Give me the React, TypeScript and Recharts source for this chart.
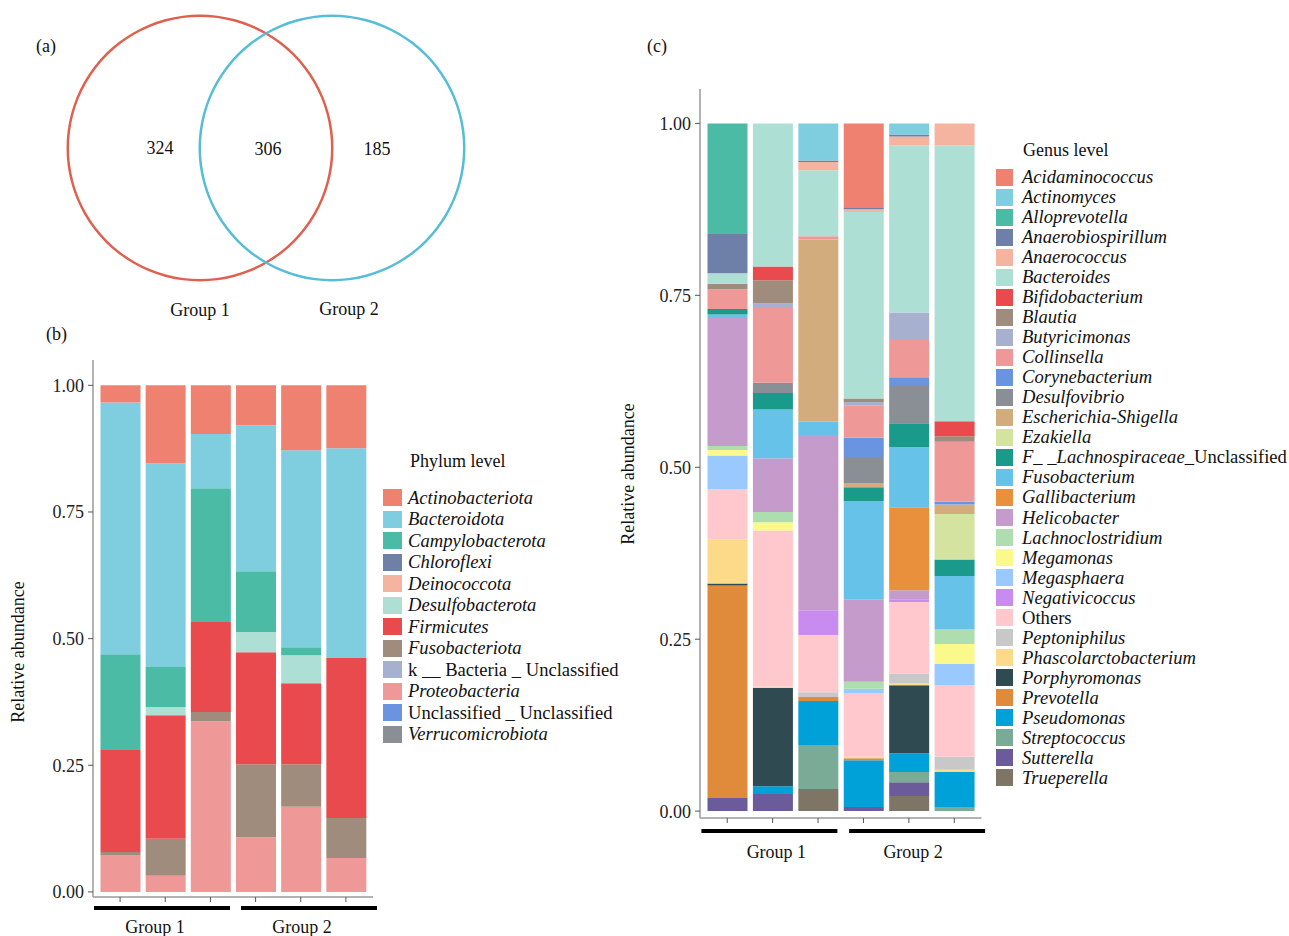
import React from 'react';
import { BarChart, Bar, XAxis, YAxis, PieChart, Pie, Customized } from 'recharts';

const FONT = '"Liberation Serif", "Times New Roman", serif';

// samples and their groups
const samples = ['G1-1', 'G1-2', 'G1-3', 'G2-1', 'G2-2', 'G2-3'];
const sampleGroups = ['Group 1', 'Group 1', 'Group 1', 'Group 2', 'Group 2', 'Group 2'];

// Venn (a)
const vennGroups = ['Group 1', 'Group 2'];
const vennCounts = [324, 306, 185]; // only group 1, shared, only group 2
const vennColors = ['#E0604F', '#55BDD5'];

// Phylum level (b) - one row per taxon, one value per sample
const phylumNames = [
  'Actinobacteriota', 'Bacteroidota', 'Campylobacterota', 'Chloroflexi', 'Deinococcota',
  'Desulfobacterota', 'Firmicutes', 'Fusobacteriota', 'k __ Bacteria _ Unclassified',
  'Proteobacteria', 'Unclassified _ Unclassified', 'Verrucomicrobiota',
];
const phylumColors = [
  '#EE8170', '#7ECEE0', '#4CBBA5', '#6E7FA8', '#F5B4A0', '#AEDFD5',
  '#E84A4E', '#A08C7C', '#A8B0D0', '#EE9898', '#6A94E0', '#8A8F96',
];
const phylumValues = [
  [0.034, 0.154, 0.096, 0.079, 0.128, 0.124],
  [0.497, 0.402, 0.107, 0.288, 0.389, 0.414],
  [0.189, 0.079, 0.264, 0.120, 0.016, 0],
  [0, 0, 0, 0, 0, 0],
  [0, 0, 0, 0, 0, 0],
  [0, 0.016, 0, 0.040, 0.055, 0],
  [0.201, 0.244, 0.178, 0.221, 0.160, 0.316],
  [0.006, 0.073, 0.018, 0.144, 0.084, 0.079],
  [0, 0, 0, 0, 0, 0],
  [0.073, 0.032, 0.337, 0.108, 0.168, 0.067],
  [0, 0, 0, 0, 0, 0],
  [0, 0, 0, 0, 0, 0],
];

// Genus level (c)
const genusNames = [
  'Acidaminococcus', 'Actinomyces', 'Alloprevotella', 'Anaerobiospirillum', 'Anaerococcus',
  'Bacteroides', 'Bifidobacterium', 'Blautia', 'Butyricimonas', 'Collinsella',
  'Corynebacterium', 'Desulfovibrio', 'Escherichia-Shigella', 'Ezakiella',
  'F__Lachnospiraceae_Unclassified', 'Fusobacterium', 'Gallibacterium', 'Helicobacter',
  'Lachnoclostridium', 'Megamonas', 'Megasphaera', 'Negativicoccus', 'Others',
  'Peptoniphilus', 'Phascolarctobacterium', 'Porphyromonas', 'Prevotella', 'Pseudomonas',
  'Streptococcus', 'Sutterella', 'Trueperella',
];
const genusColors = [
  '#EE8170', '#7ECEE0', '#4CBBA5', '#6E7FA8', '#F5B4A0',
  '#AEDFD5', '#E84A4E', '#A08C7C', '#A8B0D0', '#EE9898',
  '#6A94E0', '#8A8F96', '#D2AC7C', '#D5E3A0',
  '#1A9A8A', '#66C2E8', '#E8903C', '#C49BCB',
  '#AEDDB0', '#FBF98C', '#99C9FF', '#C88CF0', '#FFC8CC',
  '#C8C8C8', '#FDD98A', '#2F4A50', '#E08A3C', '#00A0D8',
  '#7AAB96', '#6B5B9A', '#7F7566',
];
const genusValues = [
  [0, 0, 0, 0.122, 0, 0],
  [0, 0, 0.054, 0, 0.016, 0],
  [0.161, 0, 0, 0, 0, 0],
  [0.057, 0, 0.002, 0.003, 0.003, 0],
  [0, 0, 0.012, 0.004, 0.013, 0.032],
  [0.015, 0.208, 0.096, 0.271, 0.243, 0.401],
  [0, 0.020, 0, 0, 0, 0.022],
  [0.008, 0.034, 0, 0.005, 0, 0.008],
  [0, 0.005, 0, 0.005, 0.040, 0],
  [0.029, 0.110, 0.005, 0.047, 0.054, 0.087],
  [0, 0, 0, 0.028, 0.013, 0.004],
  [0, 0.015, 0, 0.038, 0.054, 0],
  [0, 0, 0.265, 0.006, 0, 0.014],
  [0, 0, 0, 0, 0, 0.066],
  [0.008, 0.024, 0, 0.020, 0.035, 0.024],
  [0.005, 0.071, 0.019, 0.143, 0.087, 0.078],
  [0, 0, 0, 0, 0.121, 0],
  [0.186, 0.078, 0.255, 0.120, 0.013, 0],
  [0.006, 0.015, 0, 0.010, 0, 0.021],
  [0.008, 0.012, 0, 0, 0, 0.029],
  [0.049, 0, 0, 0.007, 0, 0.031],
  [0, 0, 0.036, 0, 0.004, 0],
  [0.073, 0.227, 0.083, 0.092, 0.104, 0.104],
  [0, 0, 0.007, 0, 0.014, 0.019],
  [0.064, 0.002, 0, 0.002, 0.003, 0.003],
  [0.003, 0.143, 0, 0, 0.099, 0],
  [0.309, 0, 0.006, 0.003, 0, 0],
  [0, 0.011, 0.064, 0.068, 0.027, 0.051],
  [0, 0, 0.064, 0, 0.015, 0.006],
  [0.019, 0.025, 0, 0.006, 0.020, 0],
  [0, 0, 0.032, 0, 0.022, 0],
];

const yTicks = [0, 0.25, 0.5, 0.75, 1];
const plainLabels = ['k __ Bacteria _ Unclassified', 'Unclassified _ Unclassified', 'Others'];

function buildRows(names: string[], values: number[][]) {
  return samples.map((s, j) => {
    const row: Record<string, any> = { sample: s, group: sampleGroups[j] };
    names.forEach((n, i) => {
      row[n] = values[i][j];
    });
    return row;
  });
}

const GroupTick = (props: any) => {
  const { x, y, payload, lineDy, textDy, textOffs } = props;
  const i = vennGroups.indexOf(payload.value);
  const lineOff = i === 0 ? -1 : 6;
  const textOff = textOffs[i] ?? 0;
  return (
    <g>
      <line x1={x - 68 + lineOff} x2={x + 68 + lineOff} y1={y + lineDy} y2={y + lineDy} stroke="#000" strokeWidth={4} />
      <text x={x + textOff} y={y + textDy} textAnchor="middle" fontSize={18} fontFamily={FONT} fill="#111">
        {payload.value}
      </text>
    </g>
  );
};

interface StackProps {
  names: string[];
  colors: string[];
  values: number[][];
  width: number;
  height: number;
  margin: { top: number; right: number; bottom: number; left: number };
  yWidth: number;
  lineDy: number;
  textDy: number;
  textOffs: number[];
}

function StackChart({ names, colors, values, width, height, margin, yWidth, lineDy, textDy, textOffs }: StackProps) {
  const data = buildRows(names, values);
  // ggplot stacks the first legend entry on top, so draw in reverse
  const order = names.map((n, i) => i).reverse();
  return (
    <BarChart width={width} height={height} data={data} margin={margin} barSize={40}>
      <XAxis
        dataKey="sample"
        height={10}
        padding={{ left: 4.5, right: 4.5 }}
        tickSize={5}
        tickFormatter={() => ''}
        axisLine={{ stroke: '#9a9a9a', strokeWidth: 1.5 }}
        tickLine={{ stroke: '#555' }}
        interval={0}
      />
      <XAxis
        xAxisId="grp"
        dataKey="group"
        allowDuplicatedCategory={false}
        height={29}
        axisLine={false}
        tickLine={false}
        tickSize={0}
        tickMargin={0}
        interval={0}
        tick={<GroupTick lineDy={lineDy} textDy={textDy} textOffs={textOffs} />}
      />
      <YAxis
        type="number"
        domain={[-0.01, 1.05]}
        allowDataOverflow
        ticks={yTicks}
        tickFormatter={(v: number) => v.toFixed(2)}
        width={yWidth}
        tickSize={5}
        tickMargin={4}
        axisLine={{ stroke: '#9a9a9a', strokeWidth: 1.5 }}
        tickLine={{ stroke: '#555' }}
        tick={{ fill: '#222', fontSize: 18, fontFamily: FONT }}
      />
      {order.map((i) => (
        <Bar key={names[i]} dataKey={names[i]} stackId="a" fill={colors[i]} isAnimationActive={false} />
      ))}
    </BarChart>
  );
}

function LegendLabel({ name }: { name: string }) {
  if (plainLabels.includes(name)) return <span>{name}</span>;
  if (name.startsWith('F__')) {
    return (
      <span>
        <i>F_ _Lachnospiraceae_</i>Unclassified
      </span>
    );
  }
  return <i>{name}</i>;
}

interface LegendProps {
  title: string;
  names: string[];
  colors: string[];
  left: number;
  titleLeft: number;
  titleY: number;
  firstY: number;
  step: number;
  sw: number;
  sh: number;
  textLeft: number;
}

function LegendBlock({ title, names, colors, left, titleLeft, titleY, firstY, step, sw, sh, textLeft }: LegendProps) {
  return (
    <>
      <div style={{ position: 'absolute', left: titleLeft, top: titleY - 11, fontSize: 18, lineHeight: '22px', whiteSpace: 'nowrap' }}>
        {title}
      </div>
      {names.map((n, i) => (
        <React.Fragment key={n}>
          <div
            style={{
              position: 'absolute',
              left,
              top: firstY + i * step - sh / 2,
              width: sw,
              height: sh,
              background: colors[i],
            }}
          />
          <div
            style={{
              position: 'absolute',
              left: textLeft,
              top: firstY + i * step - 11,
              fontSize: 18.6,
              lineHeight: '22px',
              whiteSpace: 'nowrap',
              color: '#111',
            }}
          >
            <LegendLabel name={n} />
          </div>
        </React.Fragment>
      ))}
    </>
  );
}

const VennText = () => (
  <g fontFamily={FONT} fontSize={18} fill="#111" textAnchor="middle">
    <text x={160} y={154}>{vennCounts[0]}</text>
    <text x={268} y={155}>{vennCounts[1]}</text>
    <text x={377} y={155}>{vennCounts[2]}</text>
    <text x={200} y={316}>{vennGroups[0]}</text>
    <text x={349} y={315}>{vennGroups[1]}</text>
  </g>
);

const absText = (left: number, top: number, text: string) => (
  <div style={{ position: 'absolute', left, top, fontSize: 18, lineHeight: '22px', whiteSpace: 'nowrap' }}>{text}</div>
);

export default function App() {
  return (
    <div
      style={{
        position: 'absolute',
        left: 0,
        top: 0,
        width: 1289,
        height: 936,
        background: '#fff',
        fontFamily: FONT,
        color: '#111',
        overflow: 'hidden',
      }}
    >
      {/* (a) Venn */}
      <div style={{ position: 'absolute', left: 0, top: 0 }}>
        <PieChart width={500} height={340} margin={{ top: 0, right: 0, bottom: 0, left: 0 }}>
          <Pie
            data={[{ name: vennGroups[0], value: vennCounts[0] + vennCounts[1] }]}
            dataKey="value"
            cx={200}
            cy={148}
            innerRadius={131}
            outerRadius={133.5}
            stroke="none"
            fill={vennColors[0]}
            isAnimationActive={false}
          />
          <Pie
            data={[{ name: vennGroups[1], value: vennCounts[1] + vennCounts[2] }]}
            dataKey="value"
            cx={332}
            cy={148}
            innerRadius={131}
            outerRadius={133.5}
            stroke="none"
            fill={vennColors[1]}
            isAnimationActive={false}
          />
          <Customized component={VennText} />
        </PieChart>
      </div>
      {absText(36, 35, '(a)')}
      {absText(46, 323, '(b)')}
      {absText(647, 35, '(c)')}

      {/* (b) phylum */}
      <div style={{ position: 'absolute', left: 0, top: 330 }}>
        <StackChart
          names={phylumNames}
          colors={phylumColors}
          values={phylumValues}
          width={640}
          height={606}
          margin={{ top: 30, right: 267, bottom: 0, left: 0 }}
          yWidth={93}
          lineDy={1}
          textDy={26}
          textOffs={[-8, -1]}
        />
      </div>
      <div
        style={{
          position: 'absolute',
          left: 18 - 100,
          top: 652 - 11,
          width: 200,
          textAlign: 'center',
          fontSize: 18,
          lineHeight: '22px',
          transform: 'rotate(-90deg)',
        }}
      >
        Relative abundance
      </div>
      <LegendBlock
        title="Phylum level"
        names={phylumNames}
        colors={phylumColors}
        left={383}
        titleLeft={410}
        titleY={461}
        firstY={497.5}
        step={21.5}
        sw={19}
        sh={17}
        textLeft={408}
      />

      {/* (c) genus */}
      <div style={{ position: 'absolute', left: 600, top: 59 }}>
        <StackChart
          names={genusNames}
          colors={genusColors}
          values={genusValues}
          width={390}
          height={877}
          margin={{ top: 30, right: 8.5, bottom: 79, left: 0 }}
          yWidth={100}
          lineDy={3}
          textDy={30}
          textOffs={[6, 2]}
        />
      </div>
      <div
        style={{
          position: 'absolute',
          left: 628 - 100,
          top: 474 - 11,
          width: 200,
          textAlign: 'center',
          fontSize: 18,
          lineHeight: '22px',
          transform: 'rotate(-90deg)',
        }}
      >
        Relative abundance
      </div>
      <LegendBlock
        title="Genus level"
        names={genusNames}
        colors={genusColors}
        left={996}
        titleLeft={1023}
        titleY={150}
        firstY={177}
        step={20.03}
        sw={17}
        sh={17}
        textLeft={1022}
      />
    </div>
  );
}
